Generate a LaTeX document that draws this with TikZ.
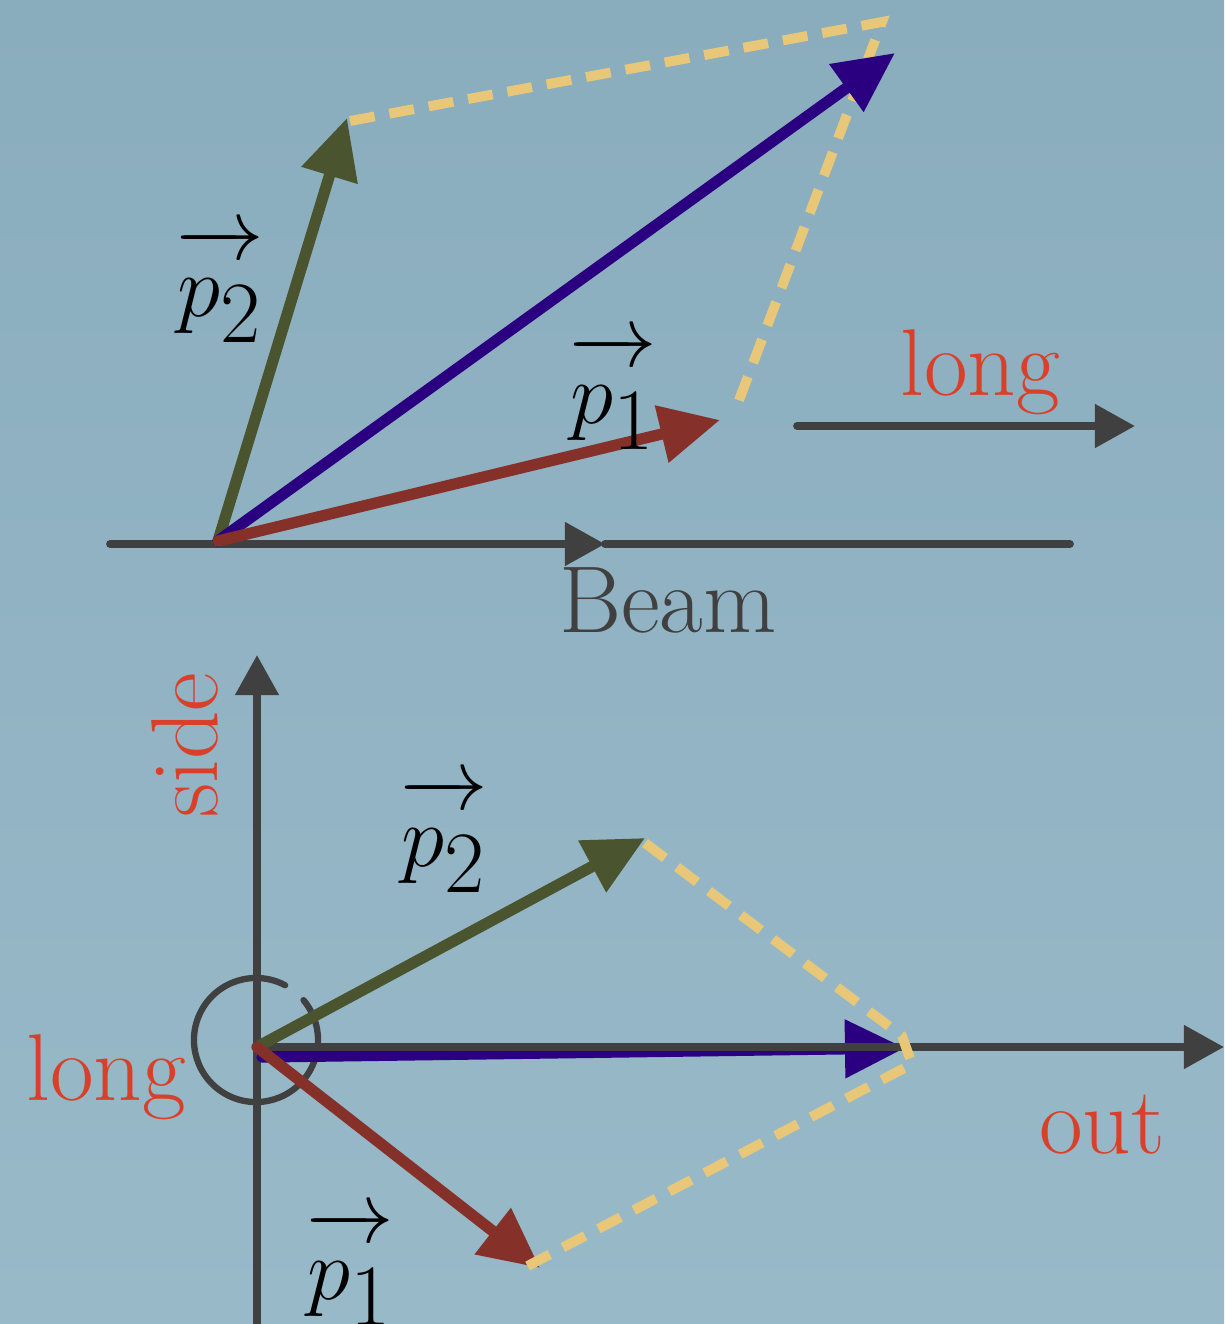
\documentclass[tikz,border=0pt]{standalone}
\usetikzlibrary{arrows.meta}
\definecolor{bgtop}{HTML}{8AADBE}
\definecolor{bgbot}{HTML}{98B9C8}
\definecolor{axisgray}{HTML}{404040}
\definecolor{vgreen}{HTML}{4A5530}
\definecolor{vblue}{HTML}{2A0080}
\definecolor{vred}{HTML}{86302A}
\definecolor{lred}{HTML}{D9402A}
\definecolor{dyellow}{HTML}{E8C878}
\newcommand{\pvec}[1]{$\overrightarrow{\vphantom{l}p_{#1}}$}
\begin{document}
\begin{tikzpicture}[x=0.01cm,y=-0.01cm,
  vec/.style={line width=3.2pt, line cap=round, -{Triangle[length=0.6cm,width=0.56cm]}},
  axisline/.style={draw=axisgray, line width=2.2pt, line cap=round},
  axhead/.style={-{Triangle[length=0.4cm,width=0.42cm]}},
  dashline/.style={draw=dyellow, line width=2.8pt, dash pattern=on 0.25cm off 0.15cm},
  lbl/.style={text=lred, font=\fontsize{27}{30}\selectfont, inner sep=0pt},
  axlbl/.style={text=axisgray, font=\fontsize{27}{30}\selectfont, inner sep=0pt},
  plbl/.style={font=\fontsize{36}{40}\selectfont, inner sep=0pt}]
\shade[top color=bgtop, bottom color=bgbot] (0,0) rectangle (1224,1324);
\useasboundingbox (0,0) rectangle (1224,1324);

% ---------- top diagram ----------
\coordinate (O1) at (218,541);
\coordinate (beamL) at (110,544);
\coordinate (beamM) at (605,544);
\coordinate (beamR) at (1070,544);
\coordinate (p2tip) at (347,118);
\coordinate (sumtip) at (895,53);
\coordinate (p1tip) at (720,420);
\coordinate (corner) at (882,22);
\coordinate (p2dash) at (350,121);
\coordinate (p1dash) at (738,403);
\coordinate (longL) at (797,426);
\coordinate (longR) at (1135,426);

\draw[axisline, axhead] (beamL) -- (beamM);
\draw[axisline] (beamM) -- (beamR);
\draw[axisline, axhead] (longL) -- (longR);

\draw[dashline] (p2dash) -- (corner) -- (p1dash);

\draw[vec, vgreen] (O1) -- (p2tip);
\draw[vec, vblue] (O1) -- (sumtip);
\draw[vec, vred] (O1) -- (p1tip);

\node[axlbl, anchor=base] (beam) at (668,632) {Beam};
\node[lbl, anchor=base] (longtop) at (980,395) {long};
\node[plbl] (p2a) at (220,285) {\pvec{2}};
\node[plbl] (p1a) at (613,392) {\pvec{1}};

% ---------- bottom diagram ----------
\coordinate (O2) at (257,1047);
\coordinate (vbot) at (257,1324);
\coordinate (vtop) at (257,655);
\coordinate (hR) at (1224,1047);
\coordinate (C) at (256,1040);
\coordinate (q2tip) at (645,838);
\coordinate (q1tip) at (540,1268);
\coordinate (qsumtip) at (905,1048);
\coordinate (bstart) at (262,1057);
\coordinate (qc1) at (902,1036);
\coordinate (qc2) at (912,1064);
\coordinate (q2dash) at (645,843);
\coordinate (q1dash) at (520,1270);

\draw[axisline, axhead] (vbot) -- (vtop);
\draw[draw=axisgray, line width=1.8pt, line cap=round]
  ([shift={(62:0.62cm)}]C) arc[start angle=62, end angle=400, radius=0.62cm];
\draw[vec, vblue] (bstart) -- (qsumtip);
\draw[axisline, axhead] (O2) -- (hR);
\draw[vec, vgreen] (O2) -- (q2tip);
\draw[vec, vred] (O2) -- (q1tip);
\draw[dashline] (q2dash) -- (qc1) -- (qc2) -- (q1dash);

\node[lbl, rotate=90] (side) at (185,745) {side};
\node[lbl, anchor=base] (longbot) at (106,1100) {long};
\node[lbl, anchor=base] (out) at (1102,1153) {out};
\node[plbl] (p2b) at (444,835) {\pvec{2}};
\node[plbl] (p1b) at (350,1268) {\pvec{1}};
\end{tikzpicture}
\end{document}
